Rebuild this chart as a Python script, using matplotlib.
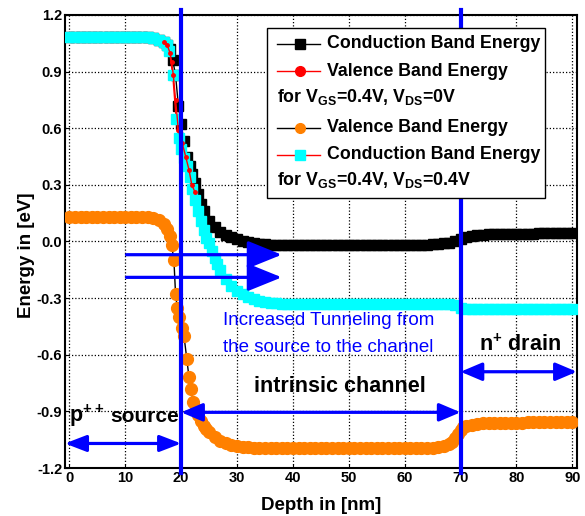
import matplotlib
matplotlib.use("Agg")
import matplotlib.pyplot as plt
from matplotlib.lines import Line2D
from matplotlib.patches import Rectangle

plt.rcParams['font.family'] = ['Liberation Sans', 'DejaVu Sans']
plt.rcParams['mathtext.fontset'] = 'custom'
plt.rcParams['mathtext.bf'] = 'Liberation Sans:bold'
plt.rcParams['mathtext.rm'] = 'Liberation Sans:bold'
plt.rcParams['mathtext.default'] = 'bf'

# ---------------- data (depth nm, energy eV) ----------------
# Conduction band energy, VGS=0.4V, VDS=0V (black)
cb0_pts = [
    (0, 1.085), (1, 1.085), (2, 1.085), (3, 1.085), (4, 1.085), (5, 1.085), (6, 1.085),
    (7, 1.085), (8, 1.085), (9, 1.085), (10, 1.085), (11, 1.085), (12, 1.085), (13, 1.085),
    (14, 1.085), (15, 1.08), (16, 1.07), (17, 1.055), (17.5, 1.04), (18, 1.02), (18.5, 0.96),
    (19, 0.88), (19.5, 0.72), (20, 0.62), (20.5, 0.53), (21, 0.45), (21.5, 0.40), (22, 0.36),
    (22.5, 0.31), (23, 0.25), (23.5, 0.20), (24, 0.16), (25, 0.11), (26, 0.075), (27, 0.05),
    (28, 0.035), (29, 0.022), (30, 0.012), (31, 0.003), (32, -0.004), (33, -0.009),
    (34, -0.012), (35, -0.015), (36, -0.016), (37, -0.017), (38, -0.018), (39, -0.018),
    (40, -0.018), (41, -0.018), (42, -0.018), (43, -0.018), (44, -0.018), (45, -0.018),
    (46, -0.018), (47, -0.018), (48, -0.018), (49, -0.018), (50, -0.018), (51, -0.018),
    (52, -0.018), (53, -0.018), (54, -0.018), (55, -0.018), (56, -0.018), (57, -0.018),
    (58, -0.018), (59, -0.018), (60, -0.018), (61, -0.018), (62, -0.017), (63, -0.017),
    (64, -0.016), (65, -0.015), (66, -0.013), (67, -0.010), (68, -0.006), (69, 0.002),
    (70, 0.012), (71, 0.024), (72, 0.031), (73, 0.035), (74, 0.037), (75, 0.038), (76, 0.039),
    (77, 0.040), (78, 0.040), (79, 0.041), (80, 0.041), (81, 0.042), (82, 0.042), (83, 0.042),
    (84, 0.043), (85, 0.043), (86, 0.043), (87, 0.044), (88, 0.044), (89, 0.045), (90, 0.045),
]

# Valence band energy, VGS=0.4V, VDS=0V (red, mostly hidden)
vb0_pts = [
    (17.0, 1.055), (17.5, 1.04), (18.0, 1.00), (18.3, 0.95), (18.6, 0.88), (19.0, 0.75),
    (19.5, 0.59), (20.2, 0.52), (20.8, 0.45), (21.4, 0.38), (21.9, 0.30), (22.5, 0.26),
]

# Valence band energy, VGS=0.4V, VDS=0.4V (orange)
vb4_pts = [
    (0, 0.13), (1, 0.13), (2, 0.13), (3, 0.13), (4, 0.13), (5, 0.13), (6, 0.13), (7, 0.13),
    (8, 0.13), (9, 0.13), (10, 0.13), (11, 0.13), (12, 0.13), (13, 0.13), (14, 0.13),
    (15, 0.125), (16, 0.115), (17, 0.095), (17.5, 0.065), (18, 0.03), (18.3, -0.02),
    (18.7, -0.10), (19.0, -0.28), (19.3, -0.35), (19.6, -0.40), (20.1, -0.46), (20.5, -0.50),
    (21.0, -0.62), (21.4, -0.72), (21.7, -0.78), (22.2, -0.85), (22.6, -0.89), (23.0, -0.92),
    (23.5, -0.95), (24.0, -0.975), (24.5, -0.995), (25, -1.01), (26, -1.035), (27, -1.055),
    (28, -1.07), (29, -1.078), (30, -1.084), (31, -1.088), (32, -1.09), (33, -1.092),
    (34, -1.094), (35, -1.095), (36, -1.095), (37, -1.095), (38, -1.095), (39, -1.095),
    (40, -1.095), (41, -1.095), (42, -1.095), (43, -1.095), (44, -1.095), (45, -1.095),
    (46, -1.095), (47, -1.095), (48, -1.095), (49, -1.095), (50, -1.095), (51, -1.095),
    (52, -1.095), (53, -1.095), (54, -1.095), (55, -1.095), (56, -1.095), (57, -1.095),
    (58, -1.095), (59, -1.095), (60, -1.095), (61, -1.095), (62, -1.094), (63, -1.094),
    (64, -1.093), (65, -1.092), (66, -1.09), (67, -1.085), (68, -1.075), (68.5, -1.06),
    (69, -1.04), (69.5, -1.02), (70, -1.0), (70.5, -0.985), (71, -0.975), (72, -0.970),
    (73, -0.966), (74, -0.964), (75, -0.963), (76, -0.962), (77, -0.961), (78, -0.960),
    (79, -0.960), (80, -0.959), (81, -0.959), (82, -0.958), (83, -0.958), (84, -0.958),
    (85, -0.957), (86, -0.957), (87, -0.957), (88, -0.956), (89, -0.956), (90, -0.955),
]

# Conduction band energy, VGS=0.4V, VDS=0.4V (cyan)
cb4_pts = [
    (0, 1.085), (1, 1.085), (2, 1.085), (3, 1.085), (4, 1.085), (5, 1.085), (6, 1.085),
    (7, 1.085), (8, 1.085), (9, 1.085), (10, 1.085), (11, 1.085), (12, 1.085), (13, 1.085),
    (14, 1.085), (15, 1.08), (16, 1.07), (17, 1.055), (17.5, 1.04), (17.9, 1.01),
    (18.5, 0.88), (19.1, 0.65), (19.6, 0.55), (20.0, 0.49), (20.5, 0.44), (21.0, 0.40),
    (21.5, 0.34), (22.0, 0.28), (22.5, 0.22), (23.0, 0.16), (23.5, 0.11), (24.0, 0.06),
    (24.5, 0.02), (25.0, -0.01), (25.5, -0.05), (26.0, -0.09), (26.5, -0.12), (27, -0.15),
    (28, -0.20), (29, -0.235), (30, -0.26), (31, -0.28), (32, -0.295), (33, -0.305),
    (34, -0.315), (35, -0.32), (36, -0.325), (37, -0.328), (38, -0.33), (39, -0.33),
    (40, -0.33), (41, -0.33), (42, -0.33), (43, -0.33), (44, -0.33), (45, -0.33), (46, -0.33),
    (47, -0.33), (48, -0.33), (49, -0.33), (50, -0.33), (51, -0.33), (52, -0.33), (53, -0.33),
    (54, -0.33), (55, -0.33), (56, -0.33), (57, -0.33), (58, -0.33), (59, -0.33), (60, -0.33),
    (61, -0.33), (62, -0.33), (63, -0.33), (64, -0.33), (65, -0.331), (66, -0.331),
    (67, -0.332), (68, -0.333), (69, -0.338), (70, -0.35), (71, -0.357), (72, -0.36),
    (73, -0.36), (74, -0.36), (75, -0.36), (76, -0.36), (77, -0.36), (78, -0.36), (79, -0.36),
    (80, -0.36), (81, -0.36), (82, -0.36), (83, -0.36), (84, -0.36), (85, -0.36), (86, -0.36),
    (87, -0.36), (88, -0.36), (89, -0.36), (90, -0.36),
]

x_ticks = [0, 10, 20, 30, 40, 50, 60, 70, 80, 90]
y_ticks = [-1.2, -0.9, -0.6, -0.3, 0.0, 0.3, 0.6, 0.9, 1.2]
region_bounds = [20, 70]

legend_labels = ["Conduction Band Energy", "Valence Band Energy",
                 "for V$_{GS}$=0.4V, V$_{DS}$=0V",
                 "Valence Band Energy", "Conduction Band Energy",
                 "for V$_{GS}$=0.4V, V$_{DS}$=0.4V"]

BLUE = '#0000ff'
ORANGE = '#ff8000'
CYAN = '#00ffff'


def xy(pts):
    return [p[0] for p in pts], [p[1] for p in pts]


# ---------------- figure ----------------
fig = plt.figure(figsize=(5.85, 5.16), dpi=100)
ax = fig.add_axes([0.111, 0.093, 0.875, 0.878])

ax.plot(*xy(vb4_pts), '-', color='black', lw=1.0, marker='o', ms=8.5,
        mfc=ORANGE, mec=ORANGE, zorder=3)
ax.plot(*xy(cb0_pts), '-', color='black', lw=1.0, marker='s', ms=7,
        mfc='black', mec='black', zorder=3)
ax.plot(*xy(cb4_pts), '-', color='red', lw=1.0, marker='s', ms=7.5,
        mfc=CYAN, mec=CYAN, zorder=4)
ax.plot(*xy(vb0_pts), '-', color='red', lw=1.0, marker='o', ms=2.5,
        mfc='red', mec='red', zorder=5)

ax.set_xlim(-0.8, 90.8)
ax.set_ylim(-1.2, 1.2)
ax.set_xticks(x_ticks)
ax.set_yticks(y_ticks)
ax.set_yticklabels([f"{v:.1f}" for v in y_ticks])
ax.grid(True, color='black', linestyle=(0, (1, 1.6)), lw=0.9)
ax.tick_params(direction='in', length=3, labelsize=10.5, pad=2)
for lab in ax.get_xticklabels() + ax.get_yticklabels():
    lab.set_fontweight('bold')
for s in ax.spines.values():
    s.set_linewidth(1.5)

ax.set_xlabel("Depth in [nm]", fontsize=13.5, fontweight='bold', labelpad=9)
ax.set_ylabel("Energy in [eV]", fontsize=13.5, fontweight='bold')
ax.yaxis.set_label_coords(-0.058, 0.47)

# vertical region boundaries
for xb in region_bounds:
    ax.axvline(xb, ymin=-0.01, ymax=1.012, color=BLUE, lw=3.0, zorder=6, clip_on=False)


def arrow(x0, x1, y, style, hl, hw):
    ax.annotate('', xy=(x1, y), xytext=(x0, y),
                arrowprops=dict(arrowstyle=f"{style},head_length={hl},head_width={hw}",
                                color=BLUE, lw=2.3, shrinkA=0, shrinkB=0,
                                mutation_scale=10), zorder=7, annotation_clip=False)


arrow(10.2, 38.0, -0.07, '-|>', 2.1, 0.85)
arrow(10.2, 38.0, -0.19, '-|>', 2.1, 0.85)
arrow(-0.8, 20, -1.07, '<|-|>', 1.3, 0.5)
arrow(20, 70, -0.905, '<|-|>', 1.3, 0.55)
arrow(70, 90.8, -0.69, '<|-|>', 1.3, 0.55)

ax.text(27.4, -0.42, "Increased Tunneling from", color=BLUE, fontsize=13.5,
        ha='left', va='center', zorder=8)
ax.text(27.4, -0.56, "the source to the channel", color=BLUE, fontsize=13.5,
        ha='left', va='center', zorder=8)
ax.text(48.4, -0.77, "intrinsic channel", fontsize=15.5, fontweight='bold',
        ha='center', va='center', zorder=8)
ax.text(0.0, -0.955, "p$^{++}$", fontsize=15.5, fontweight='bold',
        ha='left', va='baseline', zorder=8)
ax.text(7.4, -0.955, "source", fontsize=15, fontweight='bold',
        ha='left', va='baseline', zorder=8)
ax.text(80.6, -0.55, "n$^{+}$ drain", fontsize=15.5, fontweight='bold',
        ha='center', va='center', zorder=8)

# legend (drawn in axes coordinates)
T = ax.transAxes
ax.add_patch(Rectangle((0.395, 0.596), 0.5425, 0.375, transform=T, facecolor='white',
                       edgecolor='black', lw=1.0, zorder=9))
rows = [0.936, 0.876, 0.819, 0.751, 0.691, 0.636]
handles = [('black', 's', 'black'), ('red', 'o', 'red'), None,
           ('black', 'o', ORANGE), ('red', 's', CYAN), None]
for r, h, lab in zip(rows, handles, legend_labels):
    if h is None:
        ax.text(0.414, r, lab, transform=T, fontsize=12.8, fontweight='bold',
                ha='left', va='center', zorder=10)
    else:
        lc, mk, mc = h
        ax.add_line(Line2D([0.414, 0.498], [r, r], transform=T, color=lc, lw=1.0, zorder=10))
        ax.add_line(Line2D([0.459], [r], transform=T, marker=mk, ms=7, mfc=mc, mec=mc,
                           lw=0, zorder=10))
        ax.text(0.512, r, lab, transform=T, fontsize=12.8, fontweight='bold',
                ha='left', va='center', zorder=10)

fig.savefig("out.png", dpi=100)
